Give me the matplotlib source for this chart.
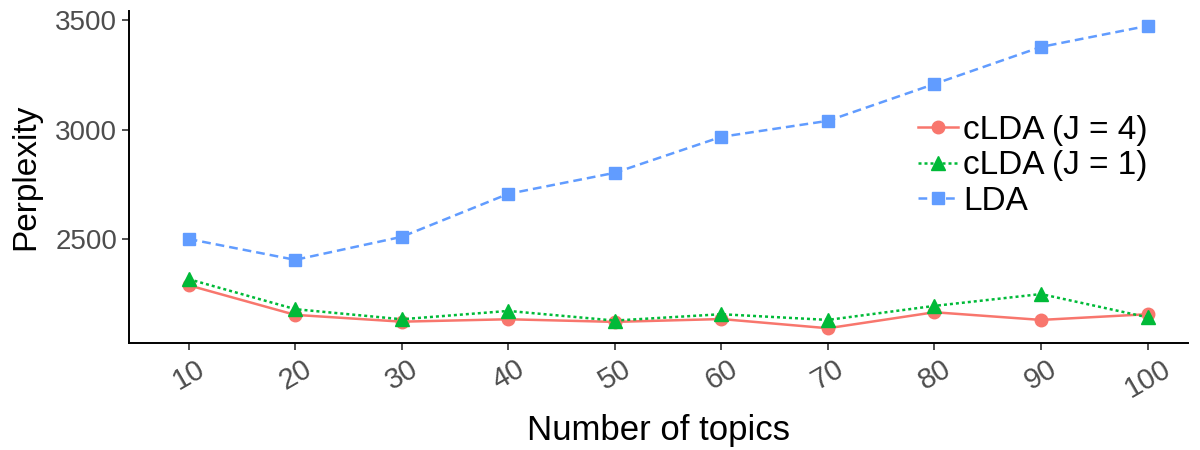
import matplotlib
matplotlib.use("Agg")
import matplotlib.pyplot as plt

plt.rcParams['font.family'] = ['Liberation Sans', 'DejaVu Sans']

# data
topics = [10, 20, 30, 40, 50, 60, 70, 80, 90, 100]
clda_j4 = [2290, 2155, 2124, 2135, 2123, 2136, 2094, 2167, 2132, 2158]
clda_j1 = [2318, 2181, 2135, 2173, 2129, 2158, 2132, 2196, 2250, 2144]
lda = [2501, 2406, 2511, 2707, 2803, 2967, 3040, 3208, 3377, 3473]

fig = plt.figure(figsize=(12, 4.5), dpi=100)
ax = fig.add_axes([0.1075, 0.2384, 0.8825, 0.7372])

ax.plot(topics, clda_j4, color='#F8766D', ls='-', lw=1.8, marker='o', ms=9,
        label='cLDA (J = 4)')
ax.plot(topics, clda_j1, color='#00BA38', ls=(0, (1.2, 1.2)), lw=1.8, marker='^', ms=10,
        label='cLDA (J = 1)')
ax.plot(topics, lda, color='#619CFF', ls=(0, (3.5, 2)), lw=1.8, marker='s', ms=8.5,
        label='LDA')

ax.set_xlim(4.4, 103.8)
ax.set_ylim(2028, 3541)
ax.set_xticks(topics)
ax.set_yticks([2500, 3000, 3500])
ax.set_xticklabels([str(t) for t in topics], rotation=30, ha='center', va='top')
for lbl in ax.get_xticklabels():
    lbl.set_x(lbl.get_position()[0])

for s in ['top', 'right']:
    ax.spines[s].set_visible(False)
for s in ['left', 'bottom']:
    ax.spines[s].set_linewidth(1.4)
ax.tick_params(axis='x', labelsize=21)
ax.tick_params(axis='both', labelcolor='#4d4d4d', length=5, width=1.2, color='#333333')
ax.tick_params(axis='y', labelsize=20)

ax.set_xlabel('Number of topics', fontsize=25, labelpad=8)
ax.set_ylabel('Perplexity', fontsize=24, labelpad=10)

leg = ax.legend(loc='center left', bbox_to_anchor=(0.745, 0.533), frameon=False,
                fontsize=24, handlelength=1.2, handletextpad=0.15, labelspacing=0.14,
                borderaxespad=0, borderpad=0)

fig.savefig('out.png', dpi=100)
